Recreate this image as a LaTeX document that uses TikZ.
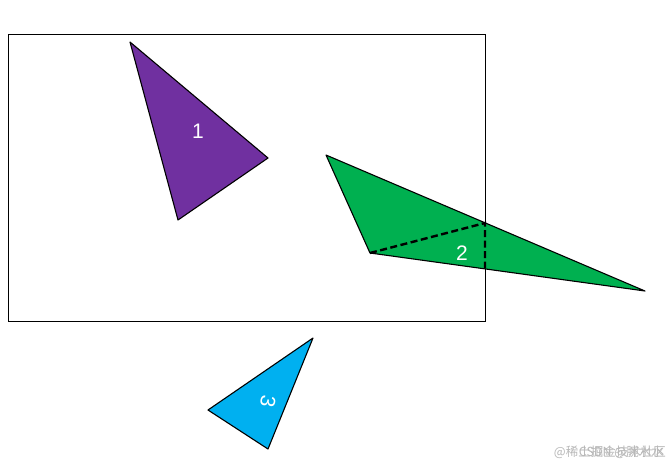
\documentclass[tikz,border=0pt]{standalone}
\usepackage{fontspec}
\setmainfont{Liberation Sans}
\newfontfamily\cjk{Noto Sans CJK SC}
\begin{document}
\begin{tikzpicture}[x=1pt,y=-1pt,
  tri/.style={draw=black,line width=1.1pt,line join=round},
  lbl/.style={text=white,font=\fontsize{21}{21}\selectfont,inner sep=0pt},
  cut/.style={draw=black,line width=2.4pt,dash pattern=on 7pt off 3.5pt},
  wm/.style={text=black!28,font=\cjk\fontsize{12.5}{12.5}\selectfont,inner sep=0pt,anchor=east}]
\useasboundingbox[fill=white] (0,0) rectangle (670,467);
\node[draw=black,line width=1.1pt,minimum width=477pt,minimum height=287pt,anchor=north west,inner sep=0pt] (frame) at (8,34) {};
% triangle 1
\coordinate (a1) at (130,42);
\coordinate (b1) at (268,158);
\coordinate (c1) at (178,220);
\fill[tri,fill={rgb,255:red,112;green,48;blue,160}] (a1) -- (b1) -- (c1) -- cycle;
\node[lbl] (l1) at (198,131) {1};
% triangle 2
\coordinate (a2) at (326,155);
\coordinate (b2) at (370,253);
\coordinate (c2) at (645,291);
\coordinate (p2) at (485,223);
\coordinate (q2) at (485,269);
\fill[tri,fill={rgb,255:red,0;green,176;blue,80}] (a2) -- (b2) -- (c2) -- cycle;
\draw[cut] (b2) -- (p2) -- (q2);
\node[lbl] (l2) at (462,253) {2};
% triangle 3
\coordinate (a3) at (313,338);
\coordinate (b3) at (208,410);
\coordinate (c3) at (268,449);
\fill[tri,fill={rgb,255:red,0;green,176;blue,240}] (a3) -- (b3) -- (c3) -- cycle;
\node[lbl,rotate=-100] (l3) at (268,401) {3};
% watermark (two overlaid marks, as in the reference)
\node[wm] (w1) at (666,452) {@稀土掘金技术社区};
\node[wm] (w2) at (664,452) {CSDN @腕水水};
\end{tikzpicture}
\end{document}
